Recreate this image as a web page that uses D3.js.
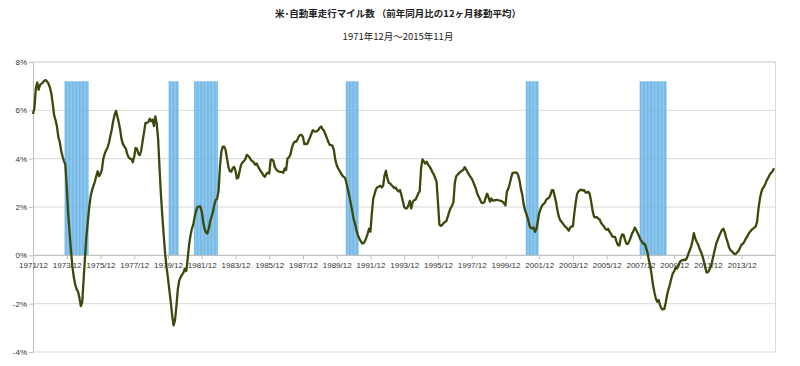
<!DOCTYPE html>
<html><head><meta charset="utf-8">
<script src="https://cdn.jsdelivr.net/npm/d3@7/dist/d3.min.js"></script>
<style>body{margin:0;background:#fff}svg{display:block}</style>
</head><body><svg id="c" width="800" height="366"></svg>
<script>
const title = "米･自動車走行マイル数 （前年同月比の12ヶ月移動平均）";
const subtitle = "1971年12月～2015年11月";
const firstMonth = "1971/12";
const tickLabels = ["1971/12","1973/12","1975/12","1977/12","1979/12","1981/12","1983/12","1985/12","1987/12","1989/12","1991/12","1993/12","1995/12","1997/12","1999/12","2001/12","2003/12","2005/12","2007/12","2009/12","2011/12","2013/12"];
const yTicks = [-4,-2,0,2,4,6,8];
const yTickLabels = ["-4%","-2%","0%","2%","4%","6%","8%"];
const recessions = [["1973/11","1975/03"],["1980/01","1980/07"],["1981/07","1982/11"],["1990/07","1991/03"],["2001/03","2001/11"],["2007/12","2009/06"]];
const recessionLevel = 7.2;
// monthly, 1971/12 .. 2015/11 (%)
const values = [
 5.85,
 6.1,6.9,7.15,6.85,7.05,7.1,7.15,7.22,7.25,7.2,7.1,6.95,
 6.7,6.3,5.8,5.6,5.35,4.9,4.7,4.35,4.1,3.9,3.75,2.85,
 1.75,0.95,0.2,-0.45,-0.9,-1.2,-1.4,-1.5,-1.75,-2.1,-1.95,-1.0,
 -0.06,0.8,1.4,2.0,2.45,2.7,2.87,3.05,3.28,3.48,3.28,3.38,
 3.55,4.0,4.2,4.35,4.45,4.65,4.95,5.2,5.55,5.8,5.98,5.75,
 5.5,5.2,4.8,4.6,4.5,4.42,4.2,4.05,4.0,3.98,3.85,4.1,
 4.44,4.4,4.2,4.15,4.35,4.75,5.1,5.48,5.48,5.52,5.65,5.55,
 5.62,5.35,5.75,5.45,4.8,3.6,2.5,1.6,0.8,0.05,-0.5,-0.95,
 -1.45,-1.95,-2.5,-2.9,-2.68,-2.1,-1.4,-1.05,-0.9,-0.8,-0.72,-0.55,
 -0.65,-0.15,0.43,0.82,1.1,1.28,1.6,1.85,2.0,2.02,2.02,1.81,
 1.4,1.1,0.95,0.9,1.1,1.4,1.6,1.8,2.1,2.3,2.35,2.7,
 3.7,4.3,4.5,4.5,4.35,4.0,3.65,3.48,3.46,3.6,3.66,3.5,
 3.18,3.22,3.5,3.75,3.85,3.9,3.98,4.15,4.12,4.05,3.95,3.9,
 3.85,3.75,3.8,3.68,3.58,3.48,3.4,3.3,3.25,3.38,3.42,3.38,
 3.94,3.97,3.9,3.65,3.55,3.5,3.46,3.45,3.45,3.42,3.6,3.53,
 4.0,4.05,4.15,4.43,4.6,4.7,4.7,4.78,4.92,4.98,4.98,4.9,
 4.6,4.62,4.6,4.75,4.88,5.03,5.18,5.13,5.12,5.14,5.19,5.28,
 5.33,5.22,5.15,5.0,4.85,4.7,4.57,4.56,4.53,4.35,3.95,3.73,
 3.6,3.5,3.4,3.3,3.25,3.2,2.97,2.7,2.45,2.15,1.85,1.5,
 1.31,1.05,0.85,0.7,0.6,0.5,0.5,0.58,0.72,0.9,1.1,0.98,
 1.75,2.35,2.55,2.75,2.82,2.85,2.88,2.81,2.88,3.3,3.5,3.2,
 3.0,2.97,2.9,2.85,2.78,2.8,2.7,2.65,2.7,2.5,2.25,2.0,
 1.94,1.95,2.07,2.25,1.94,2.2,2.28,2.3,2.42,2.56,2.65,3.6,
 3.97,3.88,3.8,3.87,3.75,3.68,3.58,3.45,3.35,3.2,3.05,2.2,
 1.28,1.22,1.25,1.33,1.38,1.42,1.6,1.8,1.95,2.05,2.2,3.0,
 3.27,3.34,3.4,3.46,3.5,3.53,3.65,3.56,3.45,3.35,3.25,3.18,
 3.05,2.9,2.75,2.55,2.42,2.3,2.17,2.17,2.2,2.4,2.55,2.4,
 2.22,2.35,2.26,2.28,2.28,2.3,2.28,2.26,2.25,2.22,2.15,2.07,
 2.63,2.75,2.95,3.2,3.4,3.42,3.42,3.42,3.33,3.1,2.75,2.5,
 2.1,1.85,1.7,1.5,1.25,1.13,1.12,1.15,0.97,1.08,1.4,1.75,
 1.92,2.05,2.12,2.17,2.3,2.35,2.38,2.5,2.7,2.7,2.45,2.2,
 1.85,1.6,1.45,1.38,1.3,1.22,1.17,1.1,1.02,1.15,1.2,1.2,
 1.75,2.2,2.55,2.65,2.7,2.72,2.68,2.7,2.6,2.6,2.63,2.53,
 2.2,1.85,1.6,1.57,1.58,1.52,1.48,1.35,1.27,1.2,1.1,1.05,
 1.1,0.98,0.9,0.78,0.76,0.76,0.57,0.42,0.41,0.7,0.87,0.85,
 0.65,0.48,0.47,0.58,0.72,0.9,1.0,1.15,1.05,0.92,0.8,0.65,
 0.58,0.48,0.48,0.32,0.12,-0.2,-0.42,-0.83,-1.25,-1.55,-1.8,-1.92,
 -1.85,-2.07,-2.2,-2.24,-2.22,-1.95,-1.62,-1.4,-1.2,-0.95,-0.75,-0.66,
 -0.5,-0.55,-0.42,-0.28,-0.22,-0.2,-0.18,-0.2,-0.12,0.05,0.2,0.35,
 0.58,0.92,0.7,0.56,0.45,0.28,0.15,0.0,-0.22,-0.48,-0.7,-0.7,
 -0.6,-0.48,-0.25,0.0,0.25,0.5,0.65,0.8,0.93,1.05,1.1,0.95,
 0.72,0.55,0.33,0.22,0.17,0.1,0.05,0.07,0.14,0.2,0.33,0.45,
 0.48,0.58,0.7,0.78,0.9,0.98,1.05,1.1,1.15,1.2,1.4,1.95,
 2.35,2.62,2.78,2.85,2.98,3.12,3.22,3.35,3.42,3.48,3.6
];

function monthIndex(s){const [y,m]=s.split("/").map(Number);const [y0,m0]=firstMonth.split("/").map(Number);return (y-y0)*12+(m-m0);}

const svg = d3.select("#c");
const L=33, R=774, T=62, B=352;
const x = d3.scaleLinear().domain([0, values.length-1]).range([L, R]);
const y = d3.scaleLinear().domain([-4, 8]).range([B, T]);
const step = x(1)-x(0);
const font = "'Liberation Sans', Arial, sans-serif";

// gridlines
svg.append("g").selectAll("line").data(yTicks).join("line")
  .attr("x1",L).attr("x2",R+1.5).attr("y1",d=>y(d)).attr("y2",d=>y(d))
  .attr("stroke","#d9d9d9").attr("stroke-width",1);
// frame top/right
svg.append("line").attr("x1",L).attr("x2",R+1.5).attr("y1",T).attr("y2",T).attr("stroke","#d9d9d9");
svg.append("line").attr("x1",R+1.5).attr("x2",R+1.5).attr("y1",T).attr("y2",B).attr("stroke","#d9d9d9");

// recession bars
const recMonths = [];
recessions.forEach(([a,b])=>{for(let i=monthIndex(a);i<=monthIndex(b);i++) recMonths.push(i);});
svg.append("g").selectAll("rect").data(recMonths).join("rect")
  .attr("x",d=>x(d)-step/2).attr("width",step+0.05)
  .attr("y",y(recessionLevel)).attr("height",y(0)-y(recessionLevel))
  .attr("fill","#62b1e4").attr("fill-opacity",0.88)
  .attr("stroke","#9fd0f0").attr("stroke-width",0.25).attr("stroke-opacity",0.6);

// y axis
const yAxis = d3.axisLeft(y).tickValues(yTicks).tickFormat((d,i)=>yTickLabels[i]).tickSize(4).tickSizeOuter(0);
const gy = svg.append("g").attr("transform",`translate(${L},0)`).call(yAxis);
gy.select(".domain").attr("stroke","#bfbfbf");
gy.selectAll(".tick line").attr("stroke","#bfbfbf");
gy.selectAll(".tick text").attr("font-family",font).attr("font-size",8).attr("fill","#333").attr("x",-6);

// x axis at 0
const xAxis = d3.axisBottom(x).tickValues(tickLabels.map(monthIndex)).tickFormat((d,i)=>tickLabels[i]).tickSize(4).tickSizeOuter(0);
const gx = svg.append("g").attr("transform",`translate(0,${y(0)})`).call(xAxis);
gx.select(".domain").attr("stroke","#bfbfbf").attr("d",`M${L},0H${R+1.5}`);
gx.selectAll(".tick line").attr("stroke","#bfbfbf");
gx.selectAll(".tick text").attr("font-family",font).attr("font-size",8).attr("fill","#333").attr("y",7);

// line
const line = d3.line().x((d,i)=>x(i)).y(d=>y(d));
svg.append("path").datum(values).attr("d",line).attr("fill","none")
  .attr("stroke","#3a4a0c").attr("stroke-width",2.3).attr("stroke-linejoin","round");

// titles
svg.append("text").attr("x",398).attr("y",17).attr("text-anchor","middle")
  .attr("font-family","'Noto Sans CJK JP', sans-serif").attr("font-size",9.5).attr("font-weight","bold").attr("fill","#222").text(title);
svg.append("text").attr("x",398).attr("y",40).attr("text-anchor","middle")
  .attr("font-family","'Noto Sans CJK JP', sans-serif").attr("font-size",9.5).attr("fill","#222").text(subtitle);
</script></body></html>
